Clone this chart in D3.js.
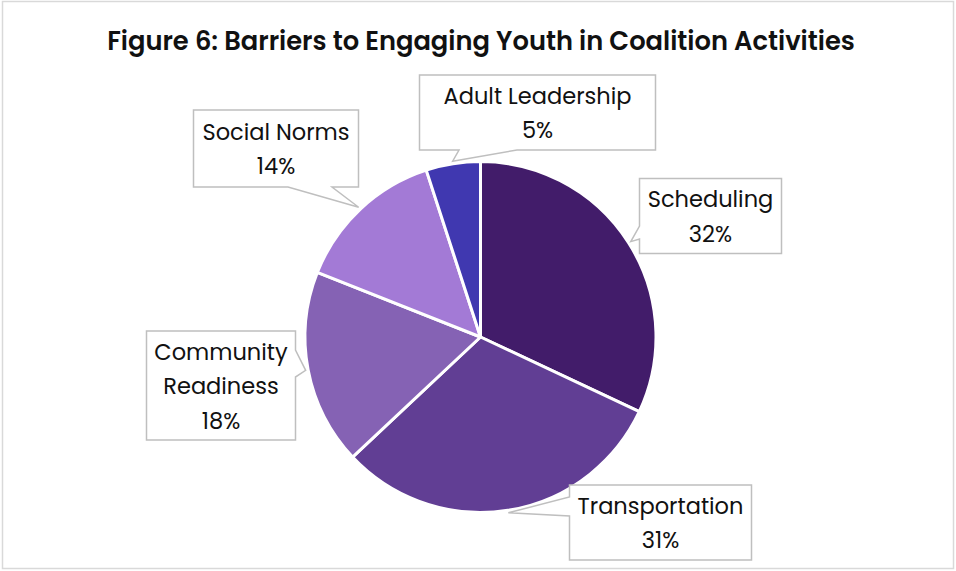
<!DOCTYPE html>
<html>
<head>
<meta charset="utf-8">
<script src="https://cdn.jsdelivr.net/npm/d3@7"></script>
<style>
  html, body { margin: 0; padding: 0; background: #ffffff; }
  svg { display: block; }
  text { font-family: Poppins, "Noto Sans", "Open Sans", sans-serif; fill: #111111; }
</style>
</head>
<body>
<svg id="chart" width="956" height="571"></svg>
<script>
// Survey categories and their share of responses (percent)
const categories = ["Scheduling", "Transportation", "Community Readiness", "Social Norms", "Adult Leadership"];
const percents = [32, 31, 18, 14, 5];
// Label text lines shown inside each callout
const labelLines = [
  ["Scheduling"],
  ["Transportation"],
  ["Community", "Readiness"],
  ["Social Norms"],
  ["Adult Leadership"]
];
const sliceColors = ["#421c6a", "#613e94", "#8562b4", "#a37ad6", "#4038b0"];
const titleText = "Figure 6: Barriers to Engaging Youth in Coalition Activities";

// Callout box geometry: box rectangle, the side carrying the pointer, and the pointer base span
const callouts = [
  { x: 639.5, y: 178.5, w: 142, h: 75, side: "left", a: 226, b: 239 },
  { x: 569.5, y: 485, w: 182, h: 75, side: "left", a: 497, b: 516 },
  { x: 146.5, y: 331, w: 149, h: 109, side: "right", a: 350, b: 377 },
  { x: 193.5, y: 110, w: 165, h: 77, side: "bottom", a: 288, b: 332 },
  { x: 419.5, y: 75, w: 236, h: 75, side: "bottom", a: 459, b: 517 }
];

const W = 956, H = 571;
const cx = 480.5, cy = 337, radius = 175.5;

const svg = d3.select("#chart");

// light page frame
svg.append("rect")
  .attr("x", 2.5).attr("y", 1.5)
  .attr("width", 951).attr("height", 567)
  .attr("fill", "#ffffff")
  .attr("stroke", "#d9d9d9")
  .attr("stroke-width", 1.5);

// title, sized to span its line
const title = svg.append("text")
  .attr("x", 481).attr("y", 50)
  .attr("text-anchor", "middle")
  .attr("font-weight", 600)
  .attr("font-size", 24)
  .text(titleText);
const tw = title.node().getComputedTextLength();
title.attr("font-size", 24 * 748 / tw);

const pie = d3.pie().sort(null).value(d => d)(percents);
const arc = d3.arc().innerRadius(0).outerRadius(radius);
const tipArc = d3.arc().innerRadius(radius + 2.5).outerRadius(radius + 2.5);

const g = svg.append("g").attr("transform", `translate(${cx},${cy})`);
g.selectAll("path.slice")
  .data(pie)
  .join("path")
  .attr("class", "slice")
  .attr("d", arc)
  .attr("fill", (d, i) => sliceColors[i])
  .attr("stroke", "#ffffff")
  .attr("stroke-width", 3)
  .attr("stroke-linejoin", "round");

// callouts
function calloutPath(c, tip) {
  const x0 = c.x, y0 = c.y, x1 = c.x + c.w, y1 = c.y + c.h;
  const p = d3.path();
  p.moveTo(x0, y0);
  p.lineTo(x1, y0);
  if (c.side === "right") {
    p.lineTo(x1, c.a); p.lineTo(tip[0], tip[1]); p.lineTo(x1, c.b);
  }
  p.lineTo(x1, y1);
  if (c.side === "bottom") {
    p.lineTo(c.b, y1); p.lineTo(tip[0], tip[1]); p.lineTo(c.a, y1);
  }
  p.lineTo(x0, y1);
  if (c.side === "left") {
    p.lineTo(x0, c.b); p.lineTo(tip[0], tip[1]); p.lineTo(x0, c.a);
  }
  p.closePath();
  return p.toString();
}

const fontSize = 22.5;
const lineH = 34.5;
const capH = 17;

pie.forEach((d, i) => {
  const c = callouts[i];
  const mid = tipArc.centroid(d);
  const tip = [cx + mid[0], cy + mid[1]];
  svg.append("path")
    .attr("d", calloutPath(c, tip))
    .attr("fill", "#ffffff")
    .attr("stroke", "#bfbfbf")
    .attr("stroke-width", 1.5)
    .attr("stroke-linejoin", "miter");

  const lines = labelLines[i].concat([d3.format(".0f")(percents[i]) + "%"]);
  const n = lines.length;
  const mx = c.x + c.w / 2;
  const my = c.y + c.h / 2;
  const first = my - (n - 1) * lineH / 2 + capH / 2;
  const t = svg.append("text")
    .attr("text-anchor", "middle")
    .attr("font-size", fontSize);
  lines.forEach((s, k) => {
    t.append("tspan").attr("x", mx).attr("y", first + k * lineH).text(s);
  });
});
</script>
</body>
</html>
